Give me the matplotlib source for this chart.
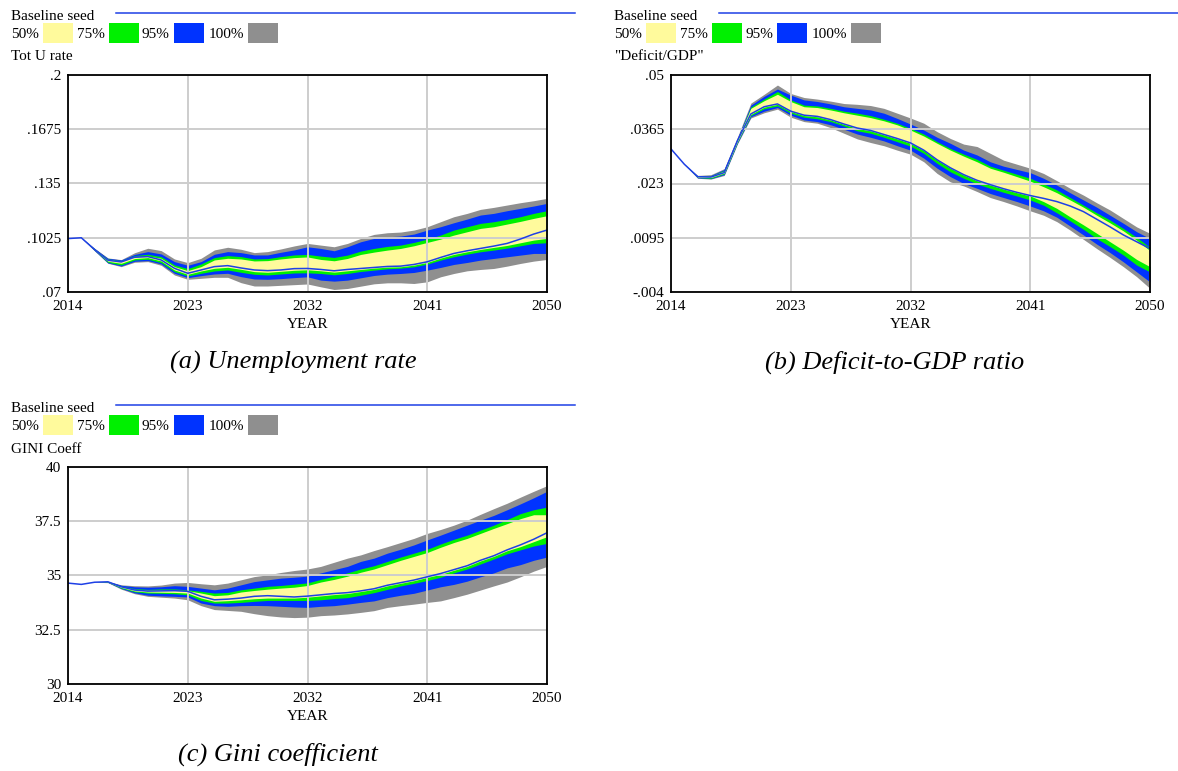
import matplotlib
matplotlib.use("Agg")
import matplotlib.pyplot as plt
from matplotlib.patches import Rectangle
from matplotlib.lines import Line2D
import numpy as np

years = list(range(2014, 2051))

# ---------------- Panel (a): Tot U rate ----------------
u_gray_hi = [.1020,.1025,.0962,.0904,.0894,.0935,.0962,.0948,.0898,.0876,
             .0902,.0952,.0968,.0956,.0936,.0942,.0958,.0976,.0991,
             .0981,.0971,.0991,.1021,.1045,.1055,.1059,.1071,.1091,
             .1121,.1151,.1171,.1195,.1207,.1221,.1235,.1247,.1261]
u_blue_hi = [.1020,.1025,.0960,.0902,.0892,.0925,.0942,.0928,.0882,.0860,
             .0882,.0926,.0942,.0936,.0922,.0922,.0938,.0952,.0971,
             .0961,.0947,.0971,.1001,.1021,.1031,.1035,.1047,.1071,
             .1091,.1115,.1137,.1161,.1171,.1187,.1201,.1215,.1231]
u_green_hi = [.1020,.1025,.0958,.0898,.0888,.0918,.0926,.0912,.0862,.0840,
              .0868,.0906,.0918,.0912,.0898,.0900,.0912,.0922,.0925,
              .0915,.0907,.0921,.0945,.0961,.0973,.0981,.0997,.1017,
              .1041,.1071,.1091,.1111,.1121,.1135,.1151,.1171,.1187]
u_yel_hi = [.1020,.1025,.0956,.0894,.0884,.0912,.0916,.0902,.0852,.0828,
            .0852,.0892,.0902,.0898,.0886,.0888,.0898,.0906,.0910,
            .0895,.0887,.0901,.0925,.0939,.0951,.0961,.0977,.0997,
            .1017,.1041,.1061,.1081,.1091,.1107,.1123,.1141,.1157]
u_base = [.1020,.1025,.0954,.0890,.0880,.0908,.0912,.0892,.0842,.0812,
          .0832,.0852,.0858,.0844,.0832,.0828,.0832,.0840,.0841,
          .0835,.0827,.0835,.0841,.0847,.0853,.0855,.0865,.0881,
          .0907,.0931,.0947,.0961,.0975,.0991,.1017,.1047,.1071]
u_yel_lo = [.1020,.1025,.0952,.0884,.0872,.0900,.0906,.0886,.0832,.0806,
            .0826,.0842,.0848,.0836,.0822,.0818,.0824,.0830,.0833,
            .0827,.0819,.0827,.0835,.0843,.0849,.0851,.0861,.0877,
            .0903,.0925,.0941,.0955,.0967,.0979,.0995,.1011,.1021]
u_green_lo = [.1020,.1025,.0950,.0878,.0862,.0892,.0896,.0876,.0822,.0796,
              .0812,.0826,.0832,.0818,.0806,.0802,.0808,.0814,.0815,
              .0811,.0803,.0811,.0823,.0831,.0839,.0843,.0851,.0867,
              .0891,.0911,.0927,.0941,.0951,.0963,.0977,.0991,.0995]
u_blue_lo = [.1020,.1025,.0948,.0874,.0856,.0884,.0888,.0868,.0812,.0786,
             .0798,.0808,.0812,.0792,.0778,.0776,.0780,.0786,.0791,
             .0771,.0765,.0771,.0785,.0799,.0807,.0811,.0817,.0831,
             .0847,.0865,.0877,.0891,.0901,.0911,.0921,.0931,.0931]
u_gray_lo = [.1020,.1025,.0946,.0872,.0852,.0878,.0882,.0860,.0802,.0776,
             .0782,.0788,.0788,.0756,.0736,.0736,.0740,.0744,.0748,
             .0731,.0715,.0721,.0735,.0749,.0755,.0755,.0751,.0761,
             .0791,.0811,.0827,.0835,.0841,.0855,.0871,.0885,.0895]
u_yticks = [.07, .1025, .135, .1675, .2]
u_ylabels = [".07", ".1025", ".135", ".1675", ".2"]

# ---------------- Panel (b): Deficit/GDP ----------------
d_gray_hi = [.0316,.0278,.0250,.0252,.0267,.0346,.0430,.0452,.0475,.0454,
             .0444,.0440,.0435,.0429,.0427,.0424,.0417,.0405,.0393,
             .0380,.0359,.0342,.0328,.0322,.0305,.0288,.0278,.0268,
             .0255,.0237,.0218,.0201,.0182,.0164,.0143,.0122,.0106]
d_blue_hi = [.0316,.0278,.0249,.0250,.0265,.0343,.0425,.0447,.0465,.0450,
             .0438,.0434,.0428,.0421,.0417,.0413,.0405,.0392,.0378,
             .0363,.0345,.0330,.0313,.0301,.0284,.0273,.0265,.0257,
             .0243,.0226,.0207,.0189,.0171,.0151,.0131,.0110,.0093]
d_green_hi = [.0316,.0278,.0248,.0249,.0263,.0341,.0420,.0440,.0459,.0438,
              .0425,.0423,.0417,.0410,.0405,.0399,.0390,.0380,.0367,
              .0353,.0334,.0317,.0303,.0290,.0273,.0263,.0253,.0243,
              .0229,.0214,.0195,.0176,.0157,.0139,.0118,.0096,.0071]
d_yel_hi = [.0316,.0278,.0248,.0248,.0261,.0340,.0417,.0436,.0452,.0434,
            .0421,.0419,.0413,.0406,.0400,.0394,.0386,.0376,.0363,
            .0348,.0330,.0313,.0298,.0284,.0268,.0258,.0247,.0236,
            .0222,.0207,.0189,.0171,.0151,.0132,.0112,.0089,.0063]
d_base = [.0316,.0278,.0247,.0246,.0257,.0337,.0403,.0421,.0428,.0410,
          .0400,.0397,.0389,.0378,.0368,.0362,.0352,.0342,.0331,
          .0313,.0289,.0269,.0252,.0238,.0227,.0217,.0208,.0200,
          .0193,.0185,.0174,.0160,.0141,.0122,.0102,.0085,.0068]
d_yel_lo = [.0316,.0278,.0246,.0245,.0256,.0335,.0402,.0420,.0427,.0409,
            .0399,.0396,.0388,.0377,.0367,.0361,.0351,.0341,.0330,
            .0312,.0288,.0268,.0251,.0237,.0226,.0216,.0207,.0199,
            .0185,.0168,.0147,.0127,.0106,.0085,.0064,.0041,.0023]
d_green_lo = [.0316,.0278,.0245,.0243,.0254,.0333,.0399,.0416,.0423,.0405,
              .0395,.0391,.0384,.0373,.0361,.0355,.0345,.0334,.0323,
              .0305,.0280,.0259,.0243,.0229,.0218,.0208,.0199,.0189,
              .0176,.0157,.0137,.0116,.0093,.0073,.0052,.0027,.0010]
d_blue_lo = [.0316,.0278,.0244,.0242,.0252,.0331,.0396,.0410,.0419,.0400,
             .0388,.0384,.0376,.0365,.0353,.0345,.0336,.0324,.0313,
             .0293,.0268,.0247,.0230,.0218,.0205,.0195,.0185,.0174,
             .0162,.0146,.0124,.0102,.0079,.0058,.0035,.0010,-.0015]
d_gray_lo = [.0316,.0278,.0243,.0241,.0250,.0329,.0393,.0406,.0415,.0395,
             .0384,.0380,.0369,.0355,.0341,.0332,.0324,.0313,.0303,
             .0284,.0255,.0234,.0224,.0210,.0195,.0185,.0174,.0162,
             .0151,.0135,.0114,.0091,.0068,.0046,.0023,-.0002,-.0031]
d_yticks = [-.004, .0095, .023, .0365, .05]
d_ylabels = ["-.004", ".0095", ".023", ".0365", ".05"]

# ---------------- Panel (c): GINI Coeff ----------------
g_gray_hi = [34.65,34.59,34.69,34.73,34.57,34.53,34.52,34.56,34.65,34.68,
             34.62,34.57,34.65,34.80,34.95,35.03,35.14,35.23,35.30,
             35.42,35.61,35.80,35.95,36.15,36.33,36.52,36.71,36.94,
             37.12,37.32,37.55,37.82,38.08,38.33,38.61,38.88,39.14]
g_blue_hi = [34.65,34.59,34.69,34.72,34.55,34.48,34.46,34.48,34.53,34.50,
             34.42,34.34,34.42,34.57,34.72,34.80,34.88,34.92,34.97,
             35.12,35.27,35.42,35.65,35.80,36.03,36.21,36.41,36.64,
             36.86,37.09,37.32,37.55,37.77,38.03,38.30,38.58,38.88]
g_green_hi = [34.65,34.59,34.69,34.72,34.52,34.40,34.36,34.38,34.38,34.34,
              34.27,34.19,34.22,34.34,34.42,34.50,34.54,34.60,34.66,
              34.82,34.97,35.12,35.30,35.45,35.65,35.85,36.03,36.21,
              36.45,36.67,36.86,37.09,37.32,37.58,37.85,38.03,38.15]
g_yel_hi = [34.65,34.59,34.69,34.71,34.50,34.36,34.32,34.33,34.32,34.30,
            34.19,34.07,34.11,34.24,34.31,34.37,34.42,34.46,34.54,
            34.70,34.82,34.97,35.15,35.30,35.50,35.70,35.88,36.06,
            36.30,36.52,36.71,36.94,37.17,37.39,37.62,37.80,37.80]
g_base = [34.65,34.59,34.69,34.71,34.48,34.33,34.28,34.29,34.30,34.27,
          34.04,33.88,33.91,33.96,34.04,34.07,34.04,34.01,34.05,
          34.11,34.17,34.21,34.29,34.39,34.55,34.67,34.79,34.94,
          35.09,35.27,35.45,35.70,35.91,36.18,36.41,36.67,36.97]
g_yel_lo = [34.65,34.59,34.69,34.70,34.45,34.29,34.24,34.23,34.22,34.19,
            33.96,33.81,33.84,33.88,33.93,33.96,33.96,33.96,34.00,
            34.06,34.12,34.17,34.26,34.36,34.52,34.64,34.76,34.91,
            35.05,35.24,35.42,35.67,35.88,36.14,36.33,36.56,36.79]
g_green_lo = [34.65,34.59,34.69,34.69,34.42,34.25,34.19,34.18,34.16,34.11,
              33.85,33.73,33.73,33.76,33.81,33.85,33.85,33.85,33.85,
              33.88,33.94,33.98,34.09,34.21,34.36,34.52,34.64,34.77,
              34.92,35.12,35.30,35.53,35.76,36.00,36.18,36.36,36.48]
g_blue_lo = [34.65,34.59,34.69,34.68,34.40,34.20,34.09,34.06,34.04,34.01,
             33.73,33.61,33.58,33.61,33.62,33.61,33.58,33.55,33.53,
             33.58,33.61,33.68,33.76,33.83,33.98,34.09,34.18,34.33,
             34.48,34.59,34.74,34.94,35.12,35.35,35.50,35.70,35.85]
g_gray_lo = [34.65,34.59,34.69,34.67,34.37,34.16,34.04,34.00,33.96,33.88,
             33.61,33.43,33.39,33.35,33.24,33.15,33.09,33.06,33.08,
             33.15,33.18,33.23,33.30,33.38,33.53,33.61,33.68,33.76,
             33.83,33.98,34.14,34.33,34.52,34.70,34.94,35.20,35.42]
g_yticks = [30, 32.5, 35, 37.5, 40]
g_ylabels = ["30", "32.5", "35", "37.5", "40"]

xticks = [2014, 2023, 2032, 2041, 2050]
legend_labels = ["50%", "75%", "95%", "100%"]

YEL = "#FFFA9C"
GRN = "#00F000"
BLU = "#0033FF"
GRY = "#8F8F8F"
LINEC = "#1E40E6"
FONT = "Liberation Serif"

W, H = 1178, 771
fig = plt.figure(figsize=(W / 100, H / 100), dpi=100)
fig.patch.set_facecolor("white")


def fx(x):
    return x / W


def fy(y):
    return 1 - y / H


def panel(x0, y0, bands, base, yticks, ylabels, title, caption, cap_x, cap_y, line_end):
    left, right = x0 + 68, x0 + 547
    top, bottom = y0 + 75, y0 + 292
    ax = fig.add_axes([fx(left), fy(bottom), (right - left) / W, (bottom - top) / H])
    cols = [GRY, BLU, GRN, YEL]
    for (lo, hi), c in zip(bands, cols):
        ax.fill_between(years, lo, hi, color=c, linewidth=0, zorder=1)
    ax.plot(years, base, color=LINEC, lw=1.1, zorder=3)
    ax.set_xlim(2014, 2050)
    ax.set_ylim(yticks[0], yticks[-1])
    ax.set_xticks(xticks)
    ax.set_xticklabels([str(t) for t in xticks], fontfamily=FONT, fontsize=11)
    ax.set_yticks(yticks)
    ax.set_yticklabels(ylabels, fontfamily=FONT, fontsize=11)
    ax.tick_params(axis="y", length=0, pad=5)
    ax.tick_params(axis="x", length=0, pad=6)
    ax.grid(True, color="#CDCDCD", lw=1.4)
    ax.set_axisbelow(False)
    for s in ax.spines.values():
        s.set_color("black")
        s.set_linewidth(1.3)
        s.set_zorder(4)
    fig.text(fx((left + right) / 2), fy(y0 + 324), "YEAR", ha="center", va="center",
             fontfamily=FONT, fontsize=11)
    lx = x0 + 11
    fig.text(fx(lx), fy(y0 + 16), "Baseline seed", ha="left", va="center",
             fontfamily=FONT, fontsize=11)
    fig.add_artist(Line2D([fx(x0 + 116), fx(line_end)], [fy(y0 + 13), fy(y0 + 13)],
                          color=LINEC, lw=1.1, transform=fig.transFigure))
    text_x = [11, 77, 142, 209]
    sw_x = [43, 109, 174, 248]
    sw_cols = [YEL, GRN, BLU, GRY]
    for lab, tx, sx, c in zip(legend_labels, text_x, sw_x, sw_cols):
        fig.text(fx(x0 + tx), fy(y0 + 34), lab, ha="left", va="center",
                 fontfamily=FONT, fontsize=11)
        fig.add_artist(Rectangle((fx(x0 + sx), fy(y0 + 43)), 30 / W, 20 / H,
                                 facecolor=c, edgecolor="none", transform=fig.transFigure))
    fig.text(fx(lx), fy(y0 + 57), title, ha="left", va="center",
             fontfamily=FONT, fontsize=11)
    fig.text(fx(cap_x), fy(cap_y), caption, ha="center", va="center",
             fontfamily=FONT, fontstyle="italic", fontsize=19)
    return ax


panel(0, 0,
      [(u_gray_lo, u_gray_hi), (u_blue_lo, u_blue_hi), (u_green_lo, u_green_hi), (u_yel_lo, u_yel_hi)],
      u_base, u_yticks, u_ylabels, "Tot U rate", "(a) Unemployment rate", 293, 362, 575)

panel(603, 0,
      [(d_gray_lo, d_gray_hi), (d_blue_lo, d_blue_hi), (d_green_lo, d_green_hi), (d_yel_lo, d_yel_hi)],
      d_base, d_yticks, d_ylabels, '"Deficit/GDP"', "(b) Deficit-to-GDP ratio", 895, 362, 1178)

panel(0, 392,
      [(g_gray_lo, g_gray_hi), (g_blue_lo, g_blue_hi), (g_green_lo, g_green_hi), (g_yel_lo, g_yel_hi)],
      g_base, g_yticks, g_ylabels, "GINI Coeff", "(c) Gini coefficient", 278, 754, 575)

fig.savefig("out.png", dpi=100)
